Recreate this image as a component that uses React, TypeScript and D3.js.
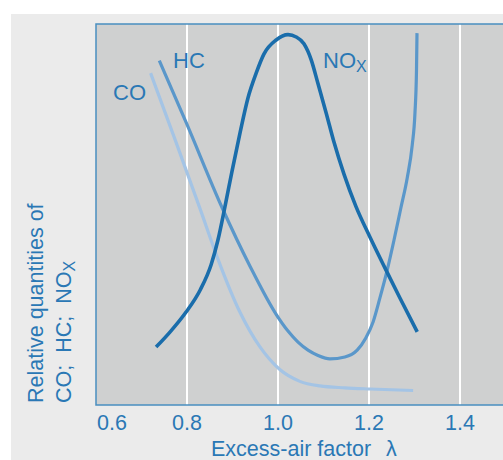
import React from "react";
import * as d3 from "d3";

// excess-air factor (lambda) vs relative quantity (0..100)
const noxLambda = [0.732, 0.763, 0.798, 0.829, 0.853, 0.868, 0.884, 0.899, 0.917, 0.934, 0.952, 0.969, 0.996, 1.022, 1.04, 1.057, 1.073, 1.088, 1.106, 1.123, 1.145, 1.171, 1.202, 1.235, 1.268, 1.306];
const noxValue = [15.2, 19.2, 24.4, 30.2, 36.8, 43.3, 52.4, 61.4, 71.7, 80.6, 87.1, 92.1, 95.8, 97.2, 96.6, 94.8, 90.6, 84.3, 76.6, 69.0, 60.6, 52.2, 44.1, 36.0, 28.1, 19.2];

const hcLambda = [0.739, 0.799, 0.876, 0.939, 0.997, 1.022, 1.044, 1.066, 1.088, 1.114, 1.147, 1.174, 1.193, 1.209, 1.224, 1.24, 1.255, 1.27, 1.284, 1.295, 1.301, 1.3044, 1.3055];
const hcValue = [90.4, 73.9, 52.1, 36.3, 23.6, 19.4, 16.5, 14.4, 13.0, 12.1, 12.6, 14.4, 17.6, 21.8, 28.1, 35.4, 43.3, 51.7, 59.6, 68.2, 76.6, 87.9, 97.6];

const coLambda = [0.72, 0.774, 0.829, 0.868, 0.917, 0.96, 1.004, 1.048, 1.092, 1.147, 1.202, 1.297];
const coValue = [87.1, 69.6, 51.4, 38.3, 24.2, 15.3, 9.3, 6.2, 5.0, 4.5, 4.2, 3.8];

const xTicks = [0.6, 0.8, 1.0, 1.2, 1.4];
const gridTicks = [0.8, 1.0, 1.2, 1.4];

const W = 503;
const H = 460;
const plot = { left: 96, top: 24, bottom: 405 };
const textColor = "#2a78b5";
const font = "'Liberation Sans', Arial, sans-serif";

const x = d3.scaleLinear().domain([0.6, 1.0]).range([96, 278]);
const y = d3.scaleLinear().domain([0, 100]).range([plot.bottom, plot.top]);

const line = d3
  .line<[number, number]>()
  .x((d) => x(d[0]))
  .y((d) => y(d[1]))
  .curve(d3.curveMonotoneX);

const zip = (a: number[], b: number[]) => a.map((v, i) => [v, b[i]] as [number, number]);

const series = [
  { name: "CO", pts: zip(coLambda, coValue), color: "#a4c4e5", width: 3.2 },
  { name: "HC", pts: zip(hcLambda, hcValue), color: "#5a97ca", width: 3.2 },
  { name: "NOx", pts: zip(noxLambda, noxValue), color: "#1a6dab", width: 3.6 },
];

export default function App() {
  return (
    <svg width={W} height={H} style={{ position: "absolute", left: 0, top: 0 }} fontFamily={font}>
      <rect x={0} y={0} width={W} height={H} fill="#ffffff" />
      <rect x={11} y={14} width={W - 11} height={H - 14} fill="#ebebeb" />
      <rect x={plot.left} y={plot.top} width={W - plot.left} height={plot.bottom - plot.top} fill="#cfd0d0" />
      {gridTicks.map((t) => (
        <line key={t} x1={x(t)} x2={x(t)} y1={plot.top} y2={plot.bottom} stroke="#ffffff" strokeWidth={2} />
      ))}
      <path
        d={`M${W},${plot.top}H${plot.left}V${plot.bottom}H${W}`}
        fill="none"
        stroke="#4a8fc0"
        strokeWidth={1.5}
      />
      {series.map((s) => (
        <path
          key={s.name}
          d={line(s.pts) || ""}
          fill="none"
          stroke={s.color}
          strokeWidth={s.width}
          strokeLinecap="butt"
        />
      ))}
      <g fill={textColor} fontSize={22}>
        <text x={113} y={100}>CO</text>
        <text x={173} y={68}>HC</text>
        <text x={323} y={68}>
          NO<tspan fontSize={16} dy={4}>X</tspan>
        </text>
      </g>
      <g fill={textColor} fontSize={21.5}>
        {xTicks.map((t, i) => (
          <text key={t} x={i === 0 ? 97 : x(t)} y={430} textAnchor={i === 0 ? "start" : "middle"}>
            {t.toFixed(1)}
          </text>
        ))}
        <text x={211} y={456}>
          Excess-air factor<tspan x={386}>λ</tspan>
        </text>
        <text transform="translate(43,403) rotate(-90)" style={{ whiteSpace: "pre" }}>Relative quantities of</text>
        <text transform="translate(71,403) rotate(-90)" style={{ whiteSpace: "pre" }}>
          CO;  HC;  NO<tspan fontSize={16} dy={4}>X</tspan>
        </text>
      </g>
    </svg>
  );
}
